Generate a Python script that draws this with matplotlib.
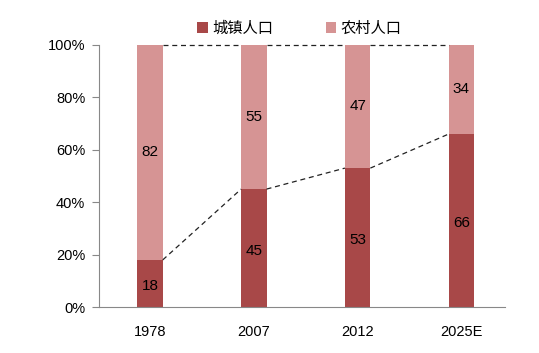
import numpy as np
import matplotlib.pyplot as plt
from matplotlib.ticker import PercentFormatter

plt.rcParams['font.family'] = ['Liberation Sans', 'Noto Sans CJK SC', 'DejaVu Sans']

years = ["1978", "2007", "2012", "2025E"]
urban = [18, 45, 53, 66]
rural = [82, 55, 47, 34]
series_names = ["城镇人口", "农村人口"]

fig = plt.figure(figsize=(5.39, 3.53), dpi=100)
ax = fig.add_axes([0.184, 0.130, 0.753, 0.743])

x = np.arange(len(years))
width = 0.245
c_urban = "#A84848"
c_rural = "#D69494"

b1 = ax.bar(x, urban, width, color=c_urban, label=series_names[0])
b2 = ax.bar(x, rural, width, bottom=urban, color=c_rural, label=series_names[1])

# series lines between bars
tops_u = np.array(urban)
tops_r = np.array(urban) + np.array(rural)
for i in range(len(years) - 1):
    ax.plot([x[i] + width / 2, x[i + 1] - width / 2], [tops_u[i], tops_u[i + 1]],
            color="#222222", lw=0.9, ls=(0, (4, 3)))
    ax.plot([x[i] + width / 2, x[i + 1] - width / 2], [tops_r[i], tops_r[i + 1]],
            color="#222222", lw=0.9, ls=(0, (4, 3)), clip_on=False)

for i in range(len(years)):
    ax.text(x[i], urban[i] / 2 - 1, str(urban[i]), ha="center", va="center", fontsize=11)
    ax.text(x[i], urban[i] + rural[i] / 2, str(rural[i]), ha="center", va="center", fontsize=11)

ax.set_xlim(-0.49, 3.42)
ax.set_ylim(0, 100)
ax.set_yticks(range(0, 101, 20))
ax.yaxis.set_major_formatter(PercentFormatter(decimals=0))
ax.set_xticks(x, years)
ax.tick_params(axis="x", length=0, pad=13, labelsize=10.5)
ax.tick_params(axis="y", length=5, color="#888888", labelsize=10.5, direction="out", pad=5)

for s in ["top", "right"]:
    ax.spines[s].set_visible(False)
ax.spines["left"].set_color("#888888")
ax.spines["bottom"].set_color("#888888")

fig.legend(handles=[b1, b2], loc="center", bbox_to_anchor=(0.556, 0.92), ncol=2,
           frameon=False, handlelength=0.7, handleheight=0.7,
           handletextpad=0.3, columnspacing=3.4,
           prop={"family": ["Noto Sans CJK SC", "DejaVu Sans"], "size": 11})

fig.savefig("out.png", dpi=100)
plt.close(fig)
